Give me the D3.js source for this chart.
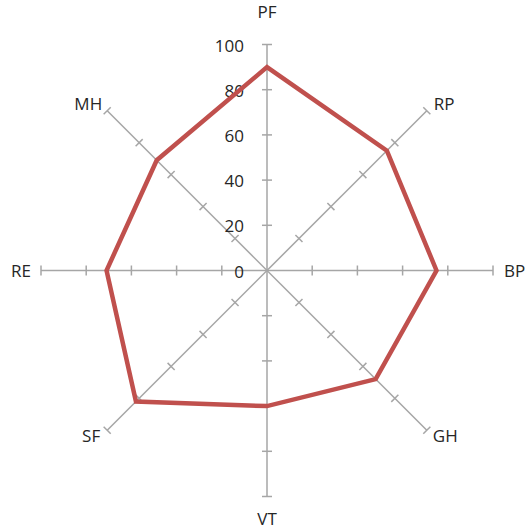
<!DOCTYPE html>
<html>
<head>
<meta charset="utf-8">
<script src="https://cdn.jsdelivr.net/npm/d3@7"></script>
<style>
  body { margin: 0; background: #fff; }
  text { font-family: "Open Sans", "Liberation Sans", sans-serif; fill: #262626; }
</style>
</head>
<body>
<div id="chart"></div>
<script>
// axes, clockwise from the top
var categories = ["PF", "RP", "BP", "GH", "VT", "SF", "RE", "MH"];
var values = [90, 75, 75, 68, 60, 82, 71, 69];
var tickValues = [0, 20, 40, 60, 80, 100];

var width = 528, height = 531,
    cx = 267, cy = 270.5, radius = 226;

var svg = d3.select("#chart").append("svg")
  .attr("width", width).attr("height", height);

var r = d3.scaleLinear().domain([0, 100]).range([0, radius]);
var angle = d3.scalePoint().domain(categories).range([0, 2 * Math.PI * 7 / 8]);

function pt(cat, v) {
  var a = angle(cat);
  return [cx + r(v) * Math.sin(a), cy - r(v) * Math.cos(a)];
}

var g = svg.append("g");

// spokes
g.selectAll("line.spoke").data(categories).enter().append("line")
  .attr("class", "spoke")
  .attr("x1", cx).attr("y1", cy)
  .attr("x2", function (d) { return pt(d, 100)[0]; })
  .attr("y2", function (d) { return pt(d, 100)[1]; })
  .attr("stroke", "#a6a6a6").attr("stroke-width", 1.5);

// tick marks across each spoke
var tickData = [];
categories.forEach(function (c) {
  tickValues.slice(1).forEach(function (t) { tickData.push({ c: c, t: t }); });
});
var tl = 5;
g.selectAll("line.tick").data(tickData).enter().append("line")
  .attr("class", "tick")
  .attr("x1", function (d) { var p = pt(d.c, d.t), a = angle(d.c); return p[0] - tl * Math.cos(a); })
  .attr("y1", function (d) { var p = pt(d.c, d.t), a = angle(d.c); return p[1] - tl * Math.sin(a); })
  .attr("x2", function (d) { var p = pt(d.c, d.t), a = angle(d.c); return p[0] + tl * Math.cos(a); })
  .attr("y2", function (d) { var p = pt(d.c, d.t), a = angle(d.c); return p[1] + tl * Math.sin(a); })
  .attr("stroke", "#a6a6a6").attr("stroke-width", 1.5);

// value labels on the first axis
g.selectAll("text.val").data(tickValues).enter().append("text")
  .attr("class", "val")
  .attr("x", cx - 23)
  .attr("y", function (d) { return cy - r(d) + 7; })
  .attr("text-anchor", "end")
  .attr("font-size", 17)
  .text(function (d) { return d; });

// series
var line = d3.line().curve(d3.curveLinearClosed);
g.append("path")
  .attr("d", line(categories.map(function (c, i) { return pt(c, values[i]); })))
  .attr("fill", "none")
  .attr("stroke", "#c0504d")
  .attr("stroke-width", 4.5)
  .attr("stroke-linejoin", "miter");

// category labels
var labelPos = {
  PF: [0, -27, "middle"], RP: [7, -1, "start"], BP: [11, 6, "start"],
  GH: [6, 12, "start"], VT: [0, 28, "middle"], SF: [-7, 12, "end"],
  RE: [-10, 6, "end"], MH: [-5, -1, "end"]
};
g.selectAll("text.cat").data(categories).enter().append("text")
  .attr("class", "cat")
  .attr("x", function (d) { return pt(d, 100)[0] + labelPos[d][0]; })
  .attr("y", function (d) { return pt(d, 100)[1] + labelPos[d][1]; })
  .attr("text-anchor", function (d) { return labelPos[d][2]; })
  .attr("font-size", 17)
  .text(function (d) { return d; });
</script>
</body>
</html>
